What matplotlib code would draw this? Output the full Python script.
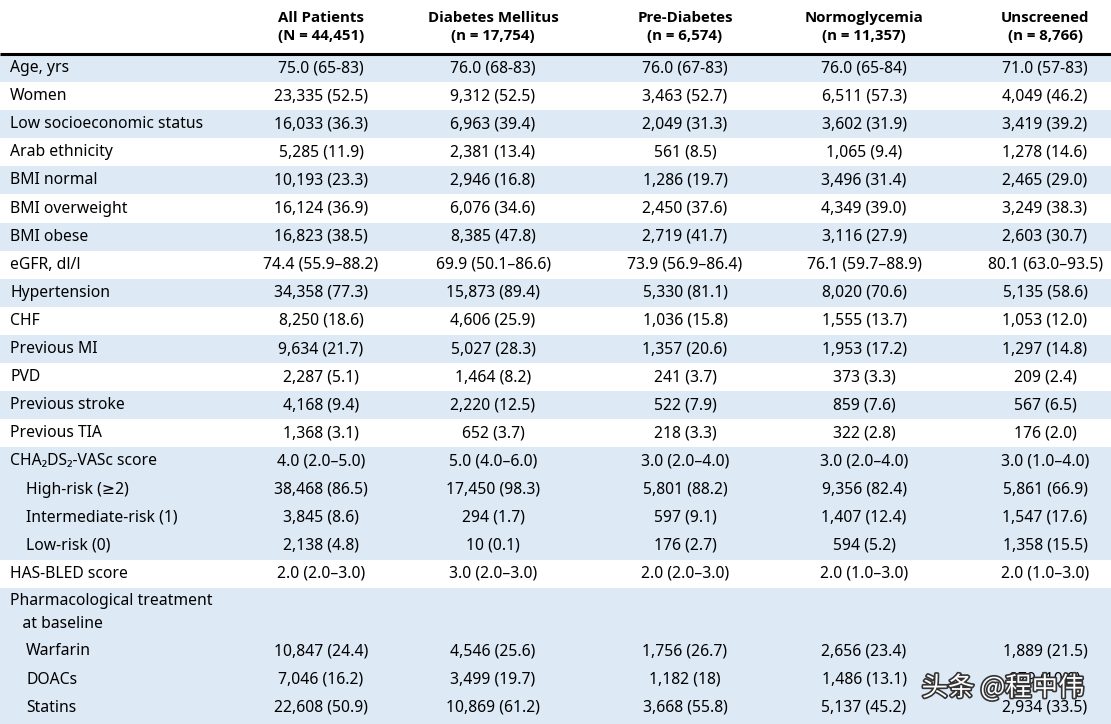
import matplotlib.pyplot as plt
import matplotlib.patheffects as pe

plt.rcParams['font.family'] = ['Noto Sans', 'DejaVu Sans']

# column headers
headers = ["All Patients\n(N = 44,451)", "Diabetes Mellitus\n(n = 17,754)",
           "Pre-Diabetes\n(n = 6,574)", "Normoglycemia\n(n = 11,357)",
           "Unscreened\n(n = 8,766)"]

row_labels = ["Age, yrs", "Women", "Low socioeconomic status", "Arab ethnicity",
              "BMI normal", "BMI overweight", "BMI obese", "eGFR, dl/l",
              "Hypertension", "CHF", "Previous MI", "PVD", "Previous stroke",
              "Previous TIA", "CHA\u2082DS\u2082-VASc score", "High-risk (\u22652)",
              "Intermediate-risk (1)", "Low-risk (0)", "HAS-BLED score",
              "Pharmacological treatment\n   at baseline", "Warfarin", "DOACs", "Statins"]
indented = [False] * 15 + [True, True, True, False, False, True, True, True]
shaded = [True, False, True, False, True, False, True, False, True, False, True,
          False, True, False, True, True, True, True, False, True, True, True, True]

all_patients = ["75.0 (65-83)", "23,335 (52.5)", "16,033 (36.3)", "5,285 (11.9)",
                "10,193 (23.3)", "16,124 (36.9)", "16,823 (38.5)", "74.4 (55.9\u201388.2)",
                "34,358 (77.3)", "8,250 (18.6)", "9,634 (21.7)", "2,287 (5.1)",
                "4,168 (9.4)", "1,368 (3.1)", "4.0 (2.0\u20135.0)", "38,468 (86.5)",
                "3,845 (8.6)", "2,138 (4.8)", "2.0 (2.0\u20133.0)", "",
                "10,847 (24.4)", "7,046 (16.2)", "22,608 (50.9)"]
diabetes = ["76.0 (68-83)", "9,312 (52.5)", "6,963 (39.4)", "2,381 (13.4)",
            "2,946 (16.8)", "6,076 (34.6)", "8,385 (47.8)", "69.9 (50.1\u201386.6)",
            "15,873 (89.4)", "4,606 (25.9)", "5,027 (28.3)", "1,464 (8.2)",
            "2,220 (12.5)", "652 (3.7)", "5.0 (4.0\u20136.0)", "17,450 (98.3)",
            "294 (1.7)", "10 (0.1)", "3.0 (2.0\u20133.0)", "",
            "4,546 (25.6)", "3,499 (19.7)", "10,869 (61.2)"]
pre_diabetes = ["76.0 (67-83)", "3,463 (52.7)", "2,049 (31.3)", "561 (8.5)",
                "1,286 (19.7)", "2,450 (37.6)", "2,719 (41.7)", "73.9 (56.9\u201386.4)",
                "5,330 (81.1)", "1,036 (15.8)", "1,357 (20.6)", "241 (3.7)",
                "522 (7.9)", "218 (3.3)", "3.0 (2.0\u20134.0)", "5,801 (88.2)",
                "597 (9.1)", "176 (2.7)", "2.0 (2.0\u20133.0)", "",
                "1,756 (26.7)", "1,182 (18)", "3,668 (55.8)"]
normoglycemia = ["76.0 (65-84)", "6,511 (57.3)", "3,602 (31.9)", "1,065 (9.4)",
                 "3,496 (31.4)", "4,349 (39.0)", "3,116 (27.9)", "76.1 (59.7\u201388.9)",
                 "8,020 (70.6)", "1,555 (13.7)", "1,953 (17.2)", "373 (3.3)",
                 "859 (7.6)", "322 (2.8)", "3.0 (2.0\u20134.0)", "9,356 (82.4)",
                 "1,407 (12.4)", "594 (5.2)", "2.0 (1.0\u20133.0)", "",
                 "2,656 (23.4)", "1,486 (13.1)", "5,137 (45.2)"]
unscreened = ["71.0 (57-83)", "4,049 (46.2)", "3,419 (39.2)", "1,278 (14.6)",
              "2,465 (29.0)", "3,249 (38.3)", "2,603 (30.7)", "80.1 (63.0\u201393.5)",
              "5,135 (58.6)", "1,053 (12.0)", "1,297 (14.8)", "209 (2.4)",
              "567 (6.5)", "176 (2.0)", "3.0 (1.0\u20134.0)", "5,861 (66.9)",
              "1,547 (17.6)", "1,358 (15.5)", "2.0 (1.0\u20133.0)", "",
              "1,889 (21.5)", "879 (10.0)", "2,934 (33.5)"]
columns = [all_patients, diabetes, pre_diabetes, normoglycemia, unscreened]

# layout (pixels)
W, H = 1111, 724
col_x = [321, 493, 685, 864, 1045]
top = 54
row_h = 28.1
fs = 11.3
band = '#DDE9F5'

fig = plt.figure(figsize=(W / 100, H / 100), dpi=100)
ax = fig.add_axes([0, 0, 1, 1])
ax.set_xlim(0, W)
ax.set_ylim(H, 0)
ax.axis('off')

for x, h in zip(col_x, headers):
    ax.text(x, 27, h, ha='center', va='center', fontsize=10.8, fontweight='bold',
            family=['Open Sans', 'DejaVu Sans'], linespacing=1.45)
ax.plot([0, W], [top, top], color='black', lw=2.2, solid_capstyle='butt')

y = top
for i, lab in enumerate(row_labels):
    h = row_h * 1.76 if '\n' in lab else row_h
    if shaded[i]:
        ax.add_patch(plt.Rectangle((0, y), W, h, color=band, lw=0, zorder=0))
    cy = y + h / 2
    ax.text(26 if indented[i] else 10, cy, lab, ha='left', va='center',
            fontsize=fs, linespacing=1.55)
    for x, col in zip(col_x, columns):
        if col[i]:
            ax.text(x, cy, col[i], ha='center', va='center', fontsize=fs)
    y += h
if y < H:
    ax.add_patch(plt.Rectangle((0, y), W, H - y, color=band, lw=0, zorder=0))

# watermark
ax.text(1003, 688, "头条 @程中伟", ha='center', va='center', fontsize=19,
        color='white', family=['Noto Sans CJK SC', 'DejaVu Sans'], zorder=5,
        path_effects=[pe.withStroke(linewidth=2.4, foreground='#333333')])

fig.savefig('out.png', dpi=100)
